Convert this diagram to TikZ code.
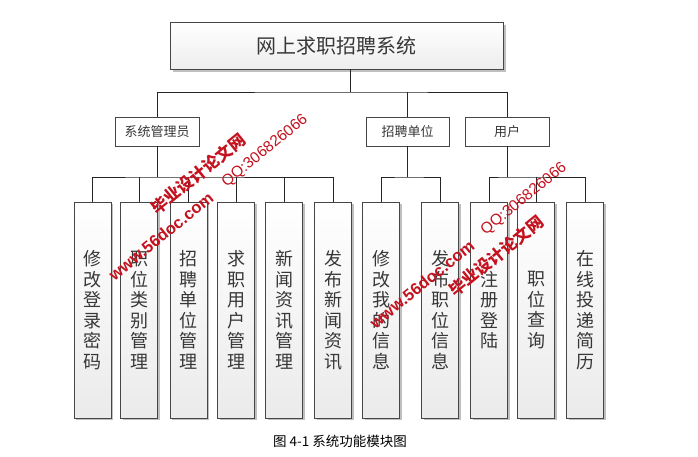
\documentclass[tikz,border=0pt]{standalone}
\usepackage{fontspec}
\setmainfont{Noto Sans CJK SC}
\newfontfamily\latinwm{Liberation Sans}
\usetikzlibrary{shadows}
\definecolor{edge}{RGB}{70,70,70}
\definecolor{txt}{RGB}{55,55,55}
\definecolor{wm}{RGB}{196,18,30}
\definecolor{shd}{RGB}{175,175,175}
\begin{document}
\begin{tikzpicture}[x=1pt,y=-1pt,
  every node/.style={inner sep=0pt, text=txt},
  topbox/.style={draw=edge, line width=0.9pt, top color=white, bottom color=black!7,
    minimum width=333pt, minimum height=47pt,
    drop shadow={shadow xshift=2.5pt, shadow yshift=-2.5pt, fill=shd, opacity=0.8},
    font=\fontsize{20}{22}\selectfont},
  midbox/.style={draw=edge, line width=0.8pt, fill=white, minimum height=29pt,
    font=\fontsize{13}{15}\selectfont},
  leafbox/.style={draw=edge, line width=0.9pt, top color=white, bottom color=black!8,
    minimum width=37pt, minimum height=216pt, align=center,
    drop shadow={shadow xshift=2pt, shadow yshift=-2pt, fill=shd, opacity=0.8},
    font=\fontsize{18}{20.5}\selectfont},
  conn/.style={draw=black!85, line width=0.8pt},
  wmark/.style={text=wm, rotate=39, font=\bfseries}
]
\useasboundingbox[fill=white] (0,0) rectangle (698,456);

\node[topbox] (top) at (336.5,45.5) {网上求职招聘系统};

\node[midbox, minimum width=84pt] (admin) at (157,131.5) {系统管理员};
\node[midbox, minimum width=83pt] (recruit) at (407.5,131.5) {招聘单位};
\node[midbox, minimum width=84pt] (user) at (507,131.5) {用户};

\node[leafbox] (l1) at (92.5,310) {修\\改\\登\\录\\密\\码};
\node[leafbox] (l2) at (139,310) {职\\位\\类\\别\\管\\理};
\node[leafbox] (l3) at (188.5,310) {招\\聘\\单\\位\\管\\理};
\node[leafbox] (l4) at (236,310) {求\\职\\用\\户\\管\\理};
\node[leafbox] (l5) at (284,310) {新\\闻\\资\\讯\\管\\理};
\node[leafbox] (l6) at (333,310) {发\\布\\新\\闻\\资\\讯};
\node[leafbox] (l7) at (381,310) {修\\改\\我\\的\\信\\息};
\node[leafbox] (l8) at (440,310) {发\\布\\职\\位\\信\\息};
\node[leafbox] (l9) at (489,310) {注\\册\\登\\陆};
\node[leafbox] (l10) at (536,310) {职\\位\\查\\询};
\node[leafbox] (l11) at (585,310) {在\\线\\投\\递\\简\\历};

% top level connectors
\coordinate (j0) at (350,92);
\draw[conn] (top.south -| j0) -- (j0);
\draw[conn] (admin.north) |- (j0) -| (user.north);
\draw[conn] (recruit.north) -- (recruit.north |- j0);

% admin subtree
\coordinate (b1) at (157,177);
\draw[conn] (admin.south) -- (b1);
\draw[conn] (l1.north) |- (b1) -| (l6.north);
\foreach \n in {l2,l3,l4,l5} \draw[conn] (\n.north) -- (\n.north |- b1);

% recruit subtree
\coordinate (b2) at (407.5,177);
\draw[conn] (recruit.south) -- (b2);
\draw[conn] (l7.north) |- (b2) -| (l8.north);

% user subtree
\coordinate (b3) at (507,177);
\draw[conn] (user.south) -- (b3);
\draw[conn] (l9.north) |- (b3) -| (l11.north);
\draw[conn] (l10.north) -- (l10.north |- b3);

% caption
\node[font=\fontsize{13.5}{15}\selectfont, text=black] (cap) at (340,441) {图 4-1 系统功能模块图};

% watermarks
\node[wmark, font=\latinwm\bfseries\fontsize{16.5}{18}\selectfont] (w1) at (161,236) {www.56doc.com};
\node[wmark, font=\bfseries\fontsize{16.5}{18}\selectfont] (w2) at (198,174) {毕业设计论文网};
\node[wmark, font=\latinwm\fontsize{15.4}{17}\selectfont] (w3) at (265,151) {QQ:306826066};
\node[wmark, font=\latinwm\bfseries\fontsize{16.5}{18}\selectfont] (w4) at (422,284) {www.56doc.com};
\node[wmark, font=\bfseries\fontsize{16.5}{18}\selectfont] (w5) at (496,256) {毕业设计论文网};
\node[wmark, font=\latinwm\fontsize{15.4}{17}\selectfont] (w6) at (524,199) {QQ:306826066};
\end{tikzpicture}
\end{document}
